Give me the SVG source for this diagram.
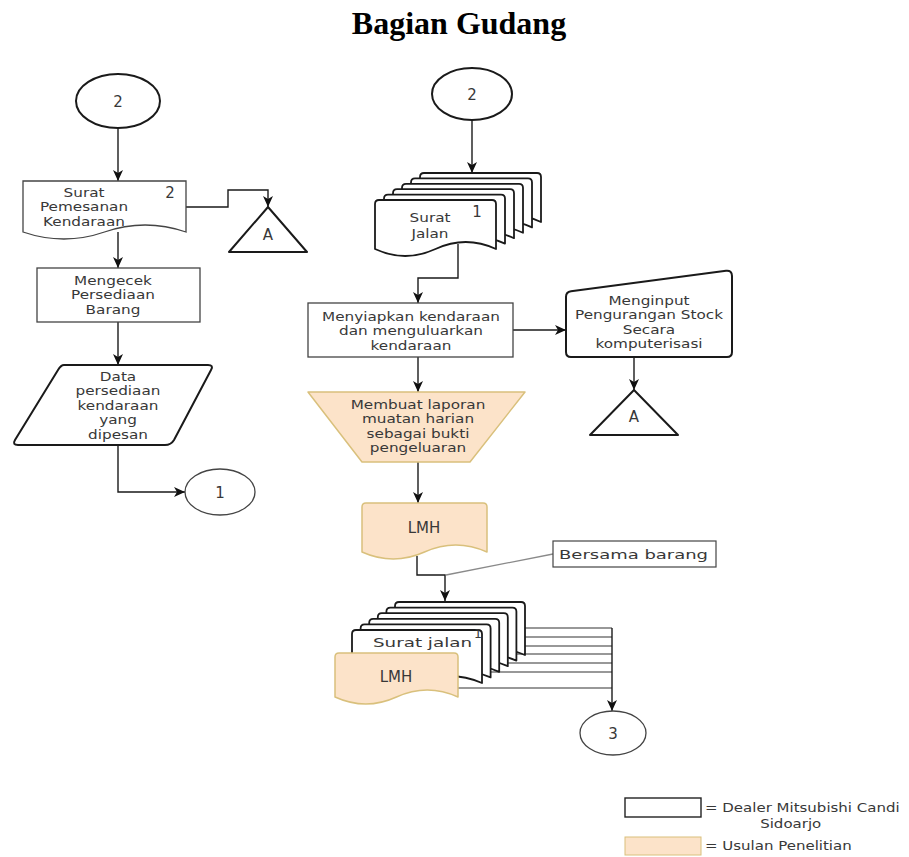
<svg xmlns="http://www.w3.org/2000/svg" width="909" height="857" viewBox="0 0 909 857">
  <defs>
    <style>
      .t { font-family: "DejaVu Sans", "Liberation Sans", sans-serif; font-size: 12.5px; fill: #383838; text-anchor: middle; }
      .tl { font-family: "DejaVu Sans", "Liberation Sans", sans-serif; font-size: 12.5px; fill: #383838; }
      .num { font-family: "DejaVu Sans", "Liberation Sans", sans-serif; font-size: 15px; fill: #383838; text-anchor: middle; }
      .title { font-family: "Liberation Serif", "Times New Roman", serif; font-size: 32px; font-weight: bold; fill: #000; text-anchor: middle; }
      .box { fill: #fff; stroke: #444; stroke-width: 1.3; }
      .bold { fill: #fff; stroke: #1a1a1a; stroke-width: 2; stroke-linejoin: round; }
      .doc { fill: #fff; stroke: #1a1a1a; stroke-width: 1.8; stroke-linejoin: round; }
      .peach { fill: #fce3c9; stroke: #d9c07c; stroke-width: 1.5; stroke-linejoin: round; }
      .conn { fill: none; stroke: #1a1a1a; stroke-width: 1.4; }
      .thin { fill: none; stroke: #333; stroke-width: 1.1; }
      .note { fill: none; stroke: #8a8a8a; stroke-width: 1.3; }
    </style>
    <marker id="arrow" markerUnits="userSpaceOnUse" markerWidth="12" markerHeight="12" viewBox="0 0 12 12" refX="11" refY="6" orient="auto">
      <path d="M0 1 L11 6 L0 11 L3 6 Z" fill="#111"/>
    </marker>
    <!-- multi-page document sheets -->
    <path id="doc121" class="doc" d="M0 4 Q0 0 4 0 H117 Q121 0 121 4 V49 Q90.75 35 60.5 49 Q30.25 63 0 49 Z"/>
    <path id="doc130" class="doc" d="M0 4 Q0 0 4 0 H126 Q130 0 130 4 V53 Q97.5 39 65 53 Q32.5 67 0 53 Z"/>
  </defs>

  <rect width="909" height="857" fill="#fff"/>

  <text class="title" x="459" y="34">Bagian Gudang</text>

  <!-- connectors -->
  <g id="connectors">
    <line class="conn" x1="118" y1="128" x2="118" y2="181" marker-end="url(#arrow)"/>
    <polyline class="conn" points="186,207 228,207 228,190 268,190 268,207" marker-end="url(#arrow)"/>
    <line class="conn" x1="118" y1="232" x2="118" y2="268" marker-end="url(#arrow)"/>
    <line class="conn" x1="118" y1="322" x2="118" y2="365" marker-end="url(#arrow)"/>
    <polyline class="conn" points="118,445 118,492 185,492" marker-end="url(#arrow)"/>

    <line class="conn" x1="472" y1="120" x2="472" y2="173" marker-end="url(#arrow)"/>
    <polyline class="conn" points="458,244 458,278 418,278 418,303" marker-end="url(#arrow)"/>
    <line class="conn" x1="513" y1="330" x2="566" y2="330" marker-end="url(#arrow)"/>
    <line class="conn" x1="634" y1="357" x2="634" y2="390" marker-end="url(#arrow)"/>
    <line class="conn" x1="418" y1="357" x2="418" y2="392" marker-end="url(#arrow)"/>
    <line class="conn" x1="418" y1="462" x2="418" y2="503" marker-end="url(#arrow)"/>
    <polyline class="conn" points="417,556 417,575 445,575 445,601" marker-end="url(#arrow)"/>
    <line class="note" x1="553" y1="554" x2="446" y2="575"/>

    <!-- outputs of the document set, merged to connector 3 -->
    <g class="thin">
      <line x1="500" y1="628" x2="612" y2="628"/>
      <line x1="500" y1="637" x2="612" y2="637"/>
      <line x1="480" y1="646" x2="612" y2="646"/>
      <line x1="480" y1="654" x2="612" y2="654"/>
      <line x1="470" y1="663" x2="612" y2="663"/>
      <line x1="470" y1="672" x2="612" y2="672"/>
      <line x1="450" y1="688" x2="612" y2="688"/>
    </g>
    <line class="conn" x1="612" y1="628" x2="612" y2="711" marker-end="url(#arrow)"/>
  </g>

  <!-- left column -->
  <g id="conn-2-left">
    <ellipse class="bold" cx="118" cy="101" rx="42" ry="27"/>
    <text class="num" x="118" y="107">2</text>
  </g>

  <g id="surat-pemesanan">
    <path class="box" d="M23 181 H186 V232 Q145 218 104.5 232 Q64 246 23 232 Z"/>
    <g class="t" transform="matrix(1.22 0 0 1 84 0)">
      <text y="197">Surat</text>
      <text y="211.5">Pemesanan</text>
      <text y="226">Kendaraan</text>
    </g>
    <text class="num" x="170" y="198">2</text>
  </g>

  <g id="off-page-a-left">
    <path class="bold" d="M268 207 L307 252 L229 252 Z"/>
    <text class="num" x="268" y="240">A</text>
  </g>

  <g id="mengecek">
    <rect class="box" x="37" y="268" width="163" height="54"/>
    <g class="t" transform="matrix(1.22 0 0 1 113 0)">
      <text y="285">Mengecek</text>
      <text y="299.5">Persediaan</text>
      <text y="314">Barang</text>
    </g>
  </g>

  <g id="data-persediaan">
    <path class="bold" d="M64 365 H208 Q214 365 211 370 L174 440 Q171 445 165 445 H18 Q12 445 15 440 L58 370 Q61 365 64 365 Z"/>
    <g class="t" transform="matrix(1.22 0 0 1 118 0)">
      <text y="381">Data</text>
      <text y="395.5">persediaan</text>
      <text y="410">kendaraan</text>
      <text y="424.5">yang</text>
      <text y="439">dipesan</text>
    </g>
  </g>

  <g id="conn-1">
    <ellipse class="box" cx="220" cy="492" rx="35" ry="23"/>
    <text class="num" x="220" y="498">1</text>
  </g>

  <!-- right column -->
  <g id="conn-2-right">
    <ellipse class="bold" cx="472" cy="94" rx="40" ry="26"/>
    <text class="num" x="472" y="100">2</text>
  </g>

  <g id="surat-jalan-set">
    <use href="#doc121" x="420" y="173"/>
    <use href="#doc121" x="411" y="178.4"/>
    <use href="#doc121" x="402" y="183.8"/>
    <use href="#doc121" x="393" y="189.2"/>
    <use href="#doc121" x="384" y="194.6"/>
    <use href="#doc121" x="375" y="200"/>
    <g class="t" transform="matrix(1.22 0 0 1 430 0)">
      <text y="222">Surat</text>
      <text y="238">Jalan</text>
    </g>
    <text class="num" x="477" y="217">1</text>
  </g>

  <g id="menyiapkan">
    <rect class="box" x="308" y="303" width="205" height="54"/>
    <g class="t" transform="matrix(1.22 0 0 1 411 0)">
      <text y="321">Menyiapkan kendaraan</text>
      <text y="335.5">dan menguluarkan</text>
      <text y="350">kendaraan</text>
    </g>
  </g>

  <g id="menginput">
    <path class="bold" d="M566 297 Q566 292 571 291.3 L726 270.7 Q732 270 732 276 V352 Q732 357 727 357 H571 Q566 357 566 352 Z"/>
    <g class="t" transform="matrix(1.22 0 0 1 649 0)">
      <text y="305">Menginput</text>
      <text y="319.5">Pengurangan Stock</text>
      <text y="334">Secara</text>
      <text y="348.5">komputerisasi</text>
    </g>
  </g>

  <g id="off-page-a-right">
    <path class="bold" d="M634 390 L678 435 L590 435 Z"/>
    <text class="num" x="634" y="422">A</text>
  </g>

  <g id="membuat-laporan">
    <path class="peach" d="M308 392 H525 L470 462 H362 Z"/>
    <g class="t" transform="matrix(1.22 0 0 1 418 0)">
      <text y="409">Membuat laporan</text>
      <text y="423.5">muatan harian</text>
      <text y="438">sebagai bukti</text>
      <text y="452.5">pengeluaran</text>
    </g>
  </g>

  <g id="lmh">
    <path class="peach" d="M362 507 Q362 503 366 503 H483 Q487 503 487 507 V552 Q455.75 538 424.5 552 Q393.25 566 362 552 Z"/>
    <text class="num" x="424" y="533">LMH</text>
  </g>

  <g id="bersama-barang">
    <rect x="553" y="541" width="163" height="26" fill="#fff" stroke="#444" stroke-width="1.2"/>
    <text class="tl" x="559" y="559" font-size="14" textLength="149" lengthAdjust="spacingAndGlyphs">Bersama barang</text>
  </g>

  <g id="surat-jalan-lmh-set">
    <use href="#doc130" x="395" y="602"/>
    <use href="#doc130" x="386.4" y="607.6"/>
    <use href="#doc130" x="377.8" y="613.2"/>
    <use href="#doc130" x="369.2" y="618.8"/>
    <use href="#doc130" x="360.6" y="624.4"/>
    <use href="#doc130" x="352" y="630"/>
    <text class="tl" x="373" y="647" font-size="14" textLength="99" lengthAdjust="spacingAndGlyphs">Surat jalan</text>
    <text class="t" x="478" y="638" font-size="10">1</text>
    <path class="peach" d="M335 657 Q335 653 339 653 H454 Q458 653 458 657 V697 Q427.25 683 396.5 697 Q365.75 711 335 697 Z"/>
    <text class="num" x="396" y="682">LMH</text>
  </g>

  <g id="conn-3">
    <ellipse class="box" cx="613" cy="733" rx="33" ry="22" stroke="#666"/>
    <text class="num" x="613" y="739">3</text>
  </g>

  <!-- legend -->
  <g id="legend">
    <rect x="625" y="798" width="76" height="19" fill="#fff" stroke="#222" stroke-width="1.4"/>
    <g class="tl" transform="matrix(1.2 0 0 1 705 0)">
      <text x="0" y="812">= Dealer Mitsubishi Candi</text>
      <text x="46" y="828">Sidoarjo</text>
    </g>
    <rect x="625" y="837" width="76" height="18" fill="#fce3c9" stroke="#d9c07c" stroke-width="1"/>
    <g class="tl" transform="matrix(1.2 0 0 1 705 0)">
      <text x="0" y="850">= Usulan Penelitian</text>
    </g>
  </g>
</svg>
